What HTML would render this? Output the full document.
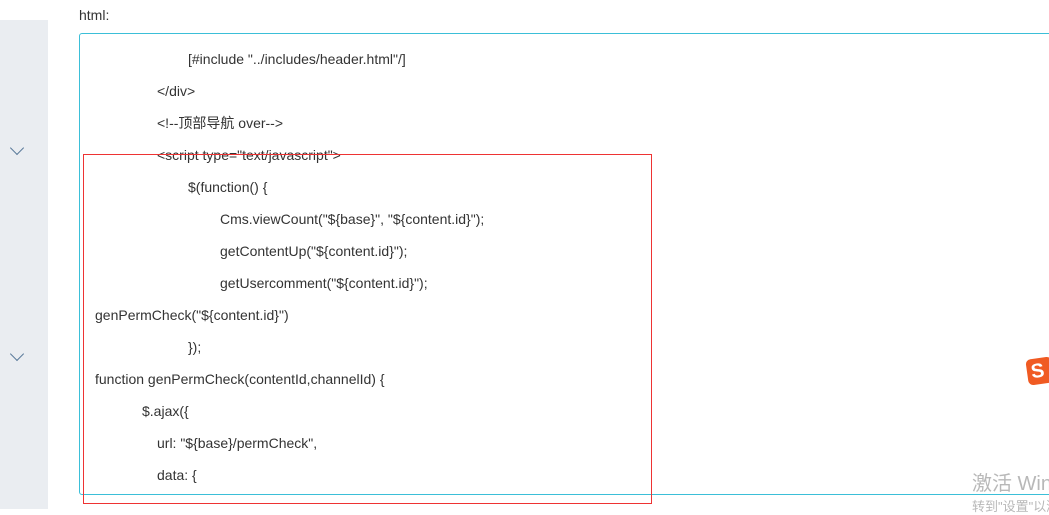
<!DOCTYPE html>
<html><head><meta charset="utf-8"><style>
body{margin:0;width:1049px;height:509px;background:#fff;position:relative;overflow:hidden;font-family:"Liberation Sans","Noto Sans CJK SC",sans-serif;font-size:14px;color:#333}
.sb{position:absolute;left:0;top:20px;width:48px;height:489px;background:#eaedf1}
.chev{position:absolute;left:12px;width:9px;height:9px;border-right:1.3px solid #5a7a9a;border-bottom:1.3px solid #5a7a9a;transform:rotate(45deg)}
.ta{position:absolute;left:79px;top:33px;width:980px;height:460px;border:1px solid #3bbfd8;border-radius:3px}
.l{position:absolute;white-space:pre;line-height:16px}
.red{position:absolute;left:83px;top:154px;width:567px;height:348px;border:1px solid #e33}
</style></head><body>
<div class="sb"></div>
<div class="chev" style="top:143px"></div>
<div class="chev" style="top:349px"></div>
<div class="l" style="left:79px;top:7px">html:</div>
<div class="ta"></div>
<div class="l" style="left:188px;top:51px">[#include "../includes/header.html"/]</div>
<div class="l" style="left:157px;top:83px">&lt;/div&gt;</div>
<div class="l" style="left:157px;top:115px">&lt;!--顶部导航 over--&gt;</div>
<div class="l" style="left:157px;top:147px">&lt;script type="text/javascript"&gt;</div>
<div class="l" style="left:188px;top:179px">$(function() {</div>
<div class="l" style="left:220px;top:211px">Cms.viewCount("${base}", "${content.id}");</div>
<div class="l" style="left:220px;top:243px">getContentUp("${content.id}");</div>
<div class="l" style="left:220px;top:275px">getUsercomment("${content.id}");</div>
<div class="l" style="left:95px;top:307px">genPermCheck("${content.id}")</div>
<div class="l" style="left:188px;top:339px">});</div>
<div class="l" style="left:95px;top:371px">function genPermCheck(contentId,channelId) {</div>
<div class="l" style="left:142px;top:403px">$.ajax({</div>
<div class="l" style="left:157px;top:435px">url: "${base}/permCheck",</div>
<div class="l" style="left:157px;top:467px">data: {</div>
<div class="red"></div>
<div style="position:absolute;left:1027px;top:358px;width:26px;height:26px;background:#f05a22;border-radius:5px;transform:rotate(-8deg);color:#fff;font-weight:bold;font-size:20px;line-height:26px;text-indent:4px">S</div>
<div class="l" style="left:972px;top:472px;font-size:20px;line-height:24px;color:#b8b8b8">激活 Windows</div>
<div class="l" style="left:972px;top:499px;font-size:13px;color:#b8b8b8">转到"设置"以激活</div>
</body></html>
